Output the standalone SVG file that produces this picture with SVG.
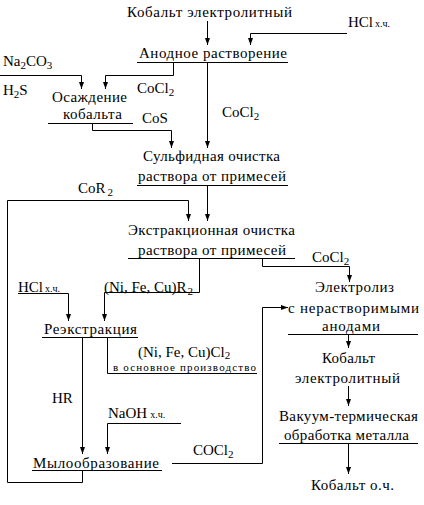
<svg xmlns="http://www.w3.org/2000/svg" width="424" height="505" viewBox="0 0 424 505">
<defs>
<marker id="ah" markerUnits="userSpaceOnUse" markerWidth="8" markerHeight="6" refX="7" refY="2.5" orient="auto">
<path d="M0,0 L7,2.5 L0,5 z" fill="#000"/>
</marker>
<style>
text{font-family:"Liberation Serif",serif;font-size:15px;fill:#000}
.s{font-size:10px}
.sm{font-size:11px}
.sub{font-size:11px}
.ln{fill:none;stroke:#000;stroke-width:1}
.ar{fill:none;stroke:#000;stroke-width:1;marker-end:url(#ah)}
</style>
</defs>
<rect width="424" height="505" fill="#fff"/>

<g id="connectors">
<path class="ar" d="M207.5,21 V45"/>
<path class="ar" d="M347,33.5 H250.5 V45"/>
<path class="ar" d="M173.5,62 V75.5 H105.5 V89"/>
<path class="ar" d="M0,75.5 H81.5 V89"/>
<path class="ar" d="M207.5,62 V148"/>
<path class="ar" d="M92.5,123 V130.5 H171.5 V148"/>
<path class="ar" d="M207.5,185 V221"/>
<path class="ar" d="M82.5,470 V482.5 H7.5 V200.5 H188.5 V221"/>
<path class="ar" d="M199.5,258 V292.5 H104.5 V321"/>
<path class="ar" d="M262.5,258 V266.5 H349.5 V282"/>
<path class="ar" d="M18,293.5 H68.5 V321"/>
<path class="ar" d="M82.5,337 V454"/>
<path class="ln" d="M107.5,337 V373.5 H257"/>
<path class="ar" d="M181,423.5 H107.5 V454"/>
<path class="ar" d="M172,463.5 H262.5 V307.5 H288"/>
<path class="ar" d="M348.5,334 V348"/>
<path class="ar" d="M348.5,386 V406"/>
<path class="ar" d="M348.5,443 V474"/>
</g>

<g id="n-cobalt-in"><text x="127" y="17" textLength="165" lengthAdjust="spacing">Кобальт электролитный</text></g>
<g id="n-anodic"><text x="139" y="58" textLength="148" lengthAdjust="spacing">Анодное растворение</text><path class="ln" d="M137,62.5 H288"/></g>
<g id="n-precip"><text x="52" y="102" textLength="75" lengthAdjust="spacing">Осаждение</text><text x="63" y="119" textLength="59" lengthAdjust="spacing">кобальта</text><path class="ln" d="M48,123.5 H133"/></g>
<g id="n-sulfide"><text x="143" y="161" textLength="137" lengthAdjust="spacing">Сульфидная очистка</text><text x="138" y="181" textLength="148" lengthAdjust="spacing">раствора от примесей</text><path class="ln" d="M137,185.5 H288"/></g>
<g id="n-extract"><text x="128" y="235" textLength="167" lengthAdjust="spacing">Экстракционная очистка</text><text x="138" y="255" textLength="148" lengthAdjust="spacing">раствора от примесей</text><path class="ln" d="M128,258.5 H295"/></g>
<g id="n-reextract"><text x="44" y="334" textLength="93" lengthAdjust="spacing">Реэкстракция</text><path class="ln" d="M42,337.5 H138"/></g>
<g id="n-soap"><text x="33" y="468" textLength="126" lengthAdjust="spacing">Мылообразование</text><path class="ln" d="M32,470.5 H162"/></g>
<g id="n-electrolysis"><text x="315" y="292" textLength="79" lengthAdjust="spacing">Электролиз</text><text x="288" y="313" textLength="131" lengthAdjust="spacing">с нерастворимыми</text><text x="322" y="331" textLength="58" lengthAdjust="spacing">анодами</text><path class="ln" d="M288,334.5 H418"/></g>
<g id="n-cobalt-el"><text x="322" y="363" textLength="53" lengthAdjust="spacing">Кобальт</text><text x="295" y="383" textLength="105" lengthAdjust="spacing">электролитный</text></g>
<g id="n-vacuum"><text x="279" y="421" textLength="139" lengthAdjust="spacing">Вакуум-термическая</text><text x="284" y="440" textLength="125" lengthAdjust="spacing">обработка металла</text><path class="ln" d="M279,443.5 H418"/></g>
<g id="n-cobalt-pure"><text x="311" y="490" textLength="83" lengthAdjust="spacing">Кобальт о.ч.</text></g>

<g id="labels">
<text x="348" y="27">HCl<tspan class="s" dx="2">х.ч.</tspan></text>
<text x="3" y="66">Na<tspan class="sub" dy="3">2</tspan><tspan dy="-3">CO</tspan><tspan class="sub" dy="3">3</tspan></text>
<text x="3" y="95">H<tspan class="sub" dy="3">2</tspan><tspan dy="-3">S</tspan></text>
<text x="137" y="93">CoCl<tspan class="sub" dy="3">2</tspan></text>
<text x="142" y="123">CoS</text>
<text x="222" y="117">CoCl<tspan class="sub" dy="3">2</tspan></text>
<text x="78" y="193">CoR<tspan class="sub" dx="2" dy="3">2</tspan></text>
<text x="312" y="262">CoCl<tspan class="sub" dy="3">2</tspan></text>
<text x="18" y="292">HCl<tspan class="s" dx="2">х.ч.</tspan></text>
<text x="104" y="292">(Ni, Fe, Cu)R<tspan class="sub" dx="1" dy="3">2</tspan></text>
<text x="138" y="357">(Ni, Fe, Cu)Cl<tspan class="sub" dy="2">2</tspan></text>
<text class="sm" x="113" y="371" textLength="143" lengthAdjust="spacing">в основное производство</text>
<text x="52" y="403">HR</text>
<text x="108" y="418">NaOH<tspan class="s" dx="3">х.ч.</tspan></text>
<text x="193" y="455">COCl<tspan class="sub" dy="3">2</tspan></text>
</g>
</svg>
